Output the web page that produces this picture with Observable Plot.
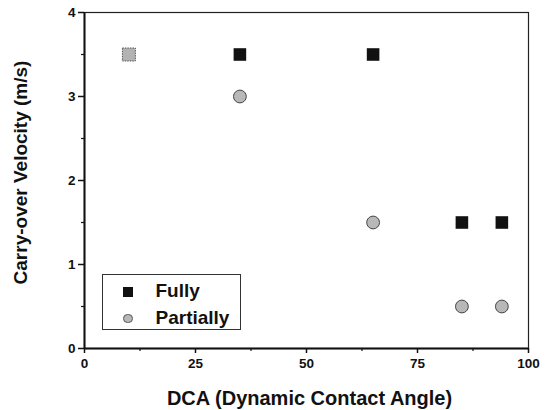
<!DOCTYPE html>
<html>
<head>
<meta charset="utf-8">
<script src="https://cdn.jsdelivr.net/npm/d3@7"></script>
<script src="https://cdn.jsdelivr.net/npm/@observablehq/plot@0.6"></script>
<style>
  body { margin: 0; background: #fff; }
  #wrap { position: relative; width: 549px; height: 410px; font-family: "Liberation Sans", Arial, sans-serif; font-weight: bold; }
  #legend { position: absolute; left: 102px; top: 274px; width: 139px; height: 56px; border: 1px solid #333; background: #fff; box-sizing: border-box; }
  .row { position: absolute; left: 0; height: 20px; font-size: 19px; line-height: 20px; color: #111; }
  .sym { position: absolute; left: 20px; top: 6px; width: 9.5px; height: 9.5px; }
  .lbl { position: absolute; left: 52.5px; top: 0; white-space: nowrap; }
</style>
</head>
<body>
<div id="wrap"></div>
<script>
const dcaFully = [35, 65, 85, 94];
const velFully = [3.5, 3.5, 1.5, 1.5];
const dcaPartially = [35, 65, 85, 94];
const velPartially = [3.0, 1.5, 0.5, 0.5];
const dcaBoth = [10];
const velBoth = [3.5];
const xTicks = [0, 25, 50, 75, 100];
const xMinor = [12.5, 37.5, 62.5, 87.5];
const yTicks = [0, 1, 2, 3, 4];
const yMinor = [0.5, 1.5, 2.5, 3.5];
const seriesNames = ["Fully", "Partially"];
const xTitle = "DCA (Dynamic Contact Angle)";
const yTitle = "Carry-over Velocity (m/s)";

const fully = dcaFully.map((x, i) => ({x, y: velFully[i]}));
const partially = dcaPartially.map((x, i) => ({x, y: velPartially[i]}));
const both = dcaBoth.map((x, i) => ({x, y: velBoth[i]}));

const chart = Plot.plot({
  width: 549,
  height: 410,
  marginLeft: 84,
  marginRight: 21,
  marginTop: 12,
  marginBottom: 62,
  style: { fontFamily: "Liberation Sans, Arial, sans-serif", fontWeight: "bold", color: "#111", background: "#fff" },
  x: { domain: [0, 100] },
  y: { domain: [0, 4] },
  marks: [
    Plot.frame({ stroke: "#222", strokeWidth: 1.2 }),
    Plot.ruleX([0], { stroke: "#111", strokeWidth: 2 }),
    Plot.ruleY([0], { stroke: "#111", strokeWidth: 2 }),
    Plot.axisX({ ticks: xTicks, tickSize: 5, tickPadding: 5, tickFormat: d => String(d), fontSize: 13.5, fontWeight: "bold", strokeWidth: 1.5, label: null }),
    Plot.axisX({ ticks: xMinor, tickSize: 3, text: null, strokeWidth: 1.2, label: null }),
    Plot.axisY({ ticks: yTicks, tickSize: 6, tickPadding: 3, tickFormat: d => String(d), fontSize: 13.5, fontWeight: "bold", strokeWidth: 1.5, label: null }),
    Plot.axisY({ ticks: yMinor, tickSize: 3, text: null, strokeWidth: 1.2, label: null }),
    Plot.text([xTitle], { text: d => d, frameAnchor: "bottom", lineAnchor: "middle", textAnchor: "middle", dx: 3, dy: 50.5, fontSize: 20, fontWeight: "bold", fill: "#111" }),
    Plot.text([yTitle], { text: d => d, frameAnchor: "left", lineAnchor: "middle", textAnchor: "middle", dx: -63.5, dy: -8, rotate: -90, fontSize: 19, fontWeight: "bold", fill: "#111" }),
    Plot.dot(both, { x: "x", y: "y", symbol: "square", r: 7.3, fill: "#b3b3b3", stroke: "#555", strokeWidth: 1, strokeDasharray: "1.5,1" }),
    Plot.dot(fully, { x: "x", y: "y", symbol: "square", r: 7.1, fill: "#111" }),
    Plot.dot(partially, { x: "x", y: "y", r: 6.4, fill: "#b8b8b8", stroke: "#444", strokeWidth: 1 })
  ]
});

const wrap = document.getElementById("wrap");
wrap.appendChild(chart);

const legend = document.createElement("div");
legend.id = "legend";
seriesNames.forEach((name, i) => {
  const row = document.createElement("div");
  row.className = "row";
  row.style.top = (6 + i * 26.5) + "px";
  row.style.width = "137px";
  const sym = document.createElement("div");
  sym.className = "sym";
  if (i === 0) {
    sym.style.background = "#111";
  } else {
    sym.style.background = "#b8b8b8";
    sym.style.border = "1px solid #555";
    sym.style.borderRadius = "50%";
    sym.style.boxSizing = "border-box";
  }
  const lbl = document.createElement("div");
  lbl.className = "lbl";
  lbl.textContent = name;
  row.appendChild(sym);
  row.appendChild(lbl);
  legend.appendChild(row);
});
wrap.appendChild(legend);
</script>
</body>
</html>
